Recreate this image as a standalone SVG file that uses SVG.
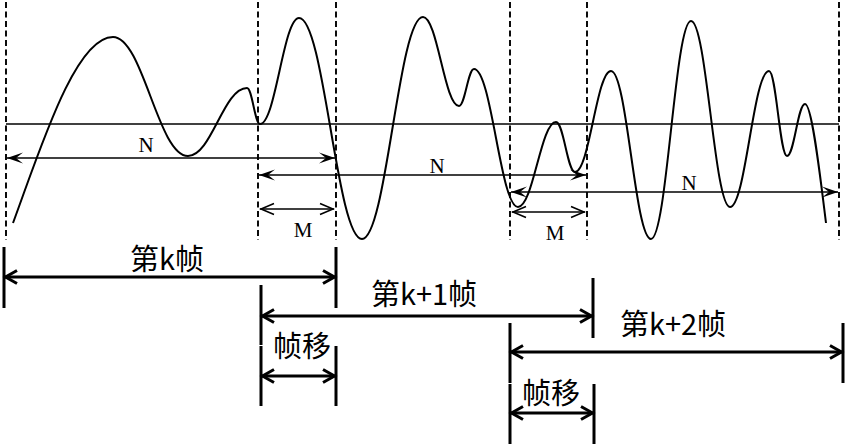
<svg xmlns="http://www.w3.org/2000/svg" width="847" height="448" viewBox="0 0 847 448">
<style>
.dash{stroke:#000;stroke-width:1.9;stroke-dasharray:6 3.5;fill:none}
.thin{stroke:#000;stroke-width:1.6;fill:none}
.wave{stroke:#000;stroke-width:2;fill:none}
.ta{stroke:#000;stroke-width:1.6;fill:none;marker-start:url(#ah);marker-end:url(#ah)}
.tm{stroke:#000;stroke-width:1.6;fill:none;marker-start:url(#am);marker-end:url(#am)}
.bar{stroke:#000;stroke-width:3;fill:none}
.ba{stroke:#000;stroke-width:3;fill:none;marker-start:url(#ab);marker-end:url(#ab)}
.ser{font-family:"Liberation Serif","Times New Roman",serif;font-size:21px;fill:#000;text-anchor:middle}
.cjk{font-family:"Noto Sans CJK SC","Noto Sans",sans-serif;font-size:29px;fill:#000;text-anchor:middle}
</style>
<defs>
<marker id="ah" viewBox="-18 -7 19 14" refX="0" refY="0" markerWidth="19" markerHeight="14" orient="auto-start-reverse" markerUnits="userSpaceOnUse">
<path d="M0,0 L-16,-5.5 L-9,0 L-16,5.5 Z" fill="#000"/>
</marker>
<marker id="am" viewBox="-18 -7 19 14" refX="0" refY="0" markerWidth="19" markerHeight="14" orient="auto-start-reverse" markerUnits="userSpaceOnUse">
<path d="M-14,-5.5 L-1,0 L-14,5.5" fill="none" stroke="#000" stroke-width="1.6"/>
</marker>
<marker id="ab" viewBox="-16 -9 18 18" refX="0" refY="0" markerWidth="18" markerHeight="18" orient="auto-start-reverse" markerUnits="userSpaceOnUse">
<path d="M-13,-6.5 L-1.5,0 L-13,6.5" fill="none" stroke="#000" stroke-width="3"/>
</marker>
</defs>
<g id="grid">
<line class="dash" x1="6" y1="2" x2="6" y2="240"/>
<line class="dash" x1="258" y1="2" x2="258" y2="240"/>
<line class="dash" x1="336" y1="2" x2="336" y2="240"/>
<line class="dash" x1="510" y1="2" x2="510" y2="240"/>
<line class="dash" x1="587" y1="2" x2="587" y2="240"/>
<line class="dash" x1="839" y1="2" x2="839" y2="240"/>
<line class="thin" x1="6" y1="124" x2="839" y2="124"/>
</g>
<g id="waveform">
<path class="wave" d="M13,223 C40,150 75,37 113,37 C143,37 158,156 188,156 C211.6,156 223.4,88 247,88 C252.2,88 254.8,124 260,124 C275.6,124 283.4,18 299,18 C324.2,18 336.8,239 362,239 C386.4,239 398.6,17 423,17 C437.4,17 444.6,106 459,106 C465,106 468,69 474,69 C491.6,69 500.4,207 518,207 C533.2,207 540.8,122 556,122 C563.6,122 567.4,172 575,172 C589.4,172 596.6,71 611,71 C627,71 635,239 651,239 C667,239 675,21 691,21 C706.6,21 714.4,207 730,207 C745.6,207 753.4,71 769,71 C776.2,71 779.8,156 787,156 C794.2,156 797.8,104 805,104 C812,104 820,175 826,223"/>
</g>
<g id="connectors">
<line class="ta" x1="7" y1="158" x2="335" y2="158"/>
<line class="ta" x1="259" y1="175" x2="586" y2="175"/>
<line class="ta" x1="511" y1="192" x2="838" y2="192"/>
<line class="tm" x1="260" y1="209" x2="334" y2="209"/>
<line class="tm" x1="512" y1="212" x2="585" y2="212"/>
<line class="ba" x1="4" y1="277" x2="336" y2="277"/>
<line class="ba" x1="261" y1="316" x2="593" y2="316"/>
<line class="ba" x1="261" y1="376" x2="336" y2="376"/>
<line class="ba" x1="510" y1="352" x2="843" y2="352"/>
<line class="ba" x1="510" y1="413" x2="594" y2="413"/>
</g>
<g id="label-N1"><text class="ser" x="146" y="152">N</text></g>
<g id="label-N2"><text class="ser" x="437" y="173">N</text></g>
<g id="label-N3"><text class="ser" x="689" y="190">N</text></g>
<g id="label-M1"><text class="ser" x="303" y="237">M</text></g>
<g id="label-M2"><text class="ser" x="555" y="240">M</text></g>
<g id="frame-k">
<line class="bar" x1="4" y1="247" x2="4" y2="308"/>
<line class="bar" x1="336" y1="247" x2="336" y2="308"/>
<text class="cjk" x="167" y="270">第k帧</text>
</g>
<g id="frame-k1">
<line class="bar" x1="261" y1="285" x2="261" y2="345"/>
<line class="bar" x1="593" y1="278" x2="593" y2="338"/>
<text class="cjk" x="424" y="305">第k+1帧</text>
</g>
<g id="shift-1">
<line class="bar" x1="261" y1="346" x2="261" y2="406"/>
<line class="bar" x1="336" y1="346" x2="336" y2="406"/>
<text class="cjk" x="302" y="357">帧移</text>
</g>
<g id="frame-k2">
<line class="bar" x1="510" y1="323" x2="510" y2="383"/>
<line class="bar" x1="843" y1="323" x2="843" y2="383"/>
<text class="cjk" x="673" y="335">第k+2帧</text>
</g>
<g id="shift-2">
<line class="bar" x1="510" y1="384" x2="510" y2="444"/>
<line class="bar" x1="594" y1="384" x2="594" y2="444"/>
<text class="cjk" x="551" y="404">帧移</text>
</g>
</svg>
